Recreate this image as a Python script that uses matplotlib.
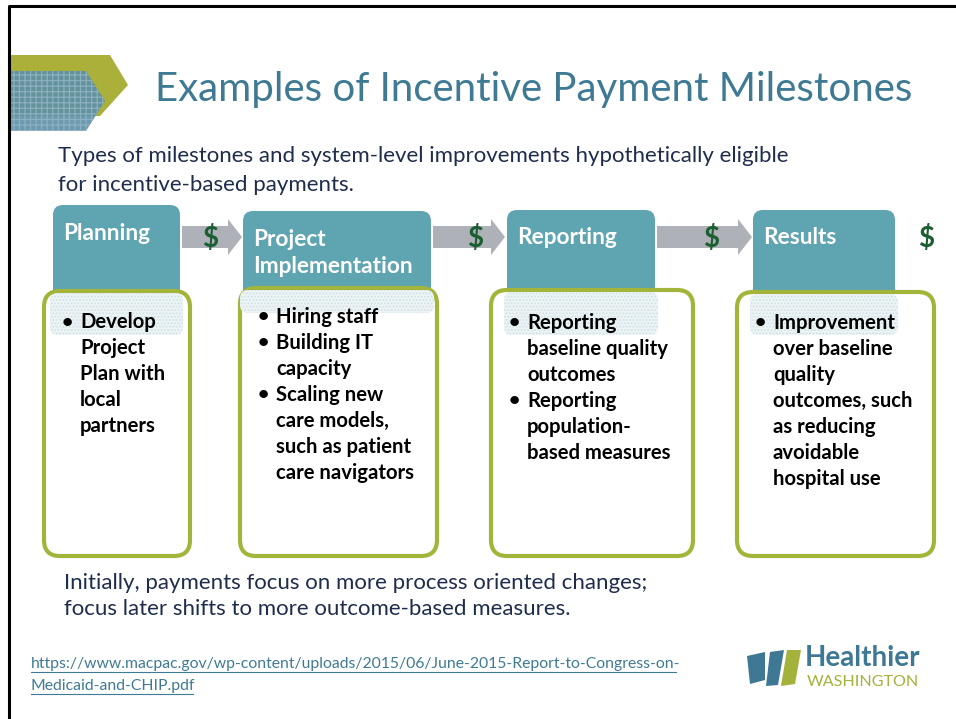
import matplotlib.pyplot as plt
from matplotlib.patches import FancyBboxPatch, Polygon

plt.rcParams['font.family'] = ['Lato', 'DejaVu Sans']
plt.rcParams['hatch.linewidth'] = 0.9

# slide texts
title = 'Examples of Incentive Payment Milestones'
subtitle = ['Types of milestones and system-level improvements hypothetically eligible',
            'for incentive-based payments.']
stages = ['Planning', 'Project\nImplementation', 'Reporting', 'Results']
bullets = [
    [['Develop', 'Project', 'Plan with', 'local', 'partners']],
    [['Hiring staff'], ['Building IT', 'capacity'],
     ['Scaling new', 'care models,', 'such as patient', 'care navigators']],
    [['Reporting', 'baseline quality', 'outcomes'],
     ['Reporting', 'population-', 'based measures']],
    [['Improvement', 'over baseline', 'quality', 'outcomes, such',
      'as reducing', 'avoidable', 'hospital use']],
]
footer = ['Initially, payments focus on more process oriented changes;',
          'focus later shifts to more outcome-based measures.']
link = ['https://www.macpac.gov/wp-content/uploads/2015/06/June-2015-Report-to-Congress-on-',
        'Medicaid-and-CHIP.pdf']

# layout (pixels)
head_x = [(53, 180), (243, 431), (507, 655), (753, 895)]
head_top = [205, 211, 210, 210]
head_ty = [234, 253, 238, 238]
body_x = [(44, 190), (240, 437), (491, 693), (737, 934)]
body_top = [291, 288, 290, 292]
glow_bot = [335, 313, 335, 335]
first_line = [322, 317, 323, 323]
arrows = [(182, 242), (433, 505), (657, 752)]
dollar_x = [210, 475, 711, 926]

TEAL = '#5fa4b1'
OLIVE = '#a3b43a'
NAVY = '#1f2d4d'
BLUE = '#3e7a94'

fig = plt.figure(figsize=(9.56, 7.19), dpi=100)
ax = fig.add_axes([0, 0, 1, 1])
ax.set_xlim(0, 956)
ax.set_ylim(719, 0)
ax.axis('off')

# slide frame
ax.plot([9, 9, 956], [719, 6, 6], color='black', lw=2.2, solid_capstyle='butt')

# top-left decoration
ax.add_patch(Polygon([(10, 55), (110, 55), (128, 85), (100, 116), (10, 116)],
                     closed=True, facecolor='#aab03a', edgecolor='none'))
ax.add_patch(Polygon([(10, 71), (86, 71), (105, 101), (86, 131), (10, 131)],
                     closed=True, facecolor='#5d8fa6', edgecolor='#8fb3c4',
                     hatch='+++', lw=0, alpha=0.9))

ax.text(155, 90, title, fontsize=29, color=BLUE, va='center', ha='left')
for i, s in enumerate(subtitle):
    ax.text(58, 156 + i * 29, s, fontsize=16, color=NAVY, va='center', ha='left')

# arrows between stages
for (x0, x1) in arrows:
    ax.add_patch(Polygon([(x0, 226), (x1 - 14, 226), (x1 - 14, 219), (x1, 237),
                          (x1 - 14, 255), (x1 - 14, 248), (x0, 248)],
                         closed=True, facecolor='#aeb1b7', edgecolor='none'))
for dx in dollar_x:
    ax.text(dx, 238, '$', fontsize=20, fontweight='bold', color='#1b5e31',
            va='center', ha='center')

for k in range(4):
    hx0, hx1 = head_x[k]
    ax.add_patch(FancyBboxPatch((hx0, head_top[k]), hx1 - hx0, 330 - head_top[k],
                                boxstyle='round,pad=0,rounding_size=10',
                                facecolor=TEAL, edgecolor='none'))
    ax.text(hx0 + 10, head_ty[k], stages[k], fontsize=16.3, fontweight='bold',
            color='white', va='center', ha='left', linespacing=1.3)

    bx0, bx1 = body_x[k]
    ax.add_patch(FancyBboxPatch((bx0, body_top[k]), bx1 - bx0, 556 - body_top[k],
                                boxstyle='round,pad=0,rounding_size=16',
                                facecolor='white', edgecolor=OLIVE, lw=3, zorder=3))
    ax.add_patch(FancyBboxPatch((hx0 - 3, body_top[k] + 2), hx1 - hx0 + 6,
                                glow_bot[k] - body_top[k] - 2,
                                boxstyle='round,pad=0,rounding_size=8',
                                facecolor='#edf4f5', edgecolor='#cfe1e5',
                                hatch='.....', lw=0, zorder=3.5))

    y = first_line[k]
    for item in bullets[k]:
        for j, line in enumerate(item):
            if j == 0:
                ax.text(bx0 + 18, y, '\u2022', fontsize=14, fontweight='bold',
                        color='black', va='center', ha='left', zorder=5)
            ax.text(bx0 + 36, y, line, fontsize=14.6, fontweight='bold',
                    color='black', va='center', ha='left', zorder=5)
            y += 26

for i, s in enumerate(footer):
    ax.text(64, 583 + i * 26, s, fontsize=16, color=NAVY, va='center', ha='left')

for i, s in enumerate(link):
    ax.text(31, 664 + i * 22, s, fontsize=11.3, color=BLUE, va='center', ha='left')
ax.plot([31, 676], [672, 672], color=BLUE, lw=0.8)
ax.plot([31, 193], [694, 694], color=BLUE, lw=0.8)

# logo
ax.add_patch(Polygon([(747, 656), (765, 652), (765, 680), (750, 684)],
                     closed=True, facecolor='#3f7895', edgecolor='none'))
ax.add_patch(Polygon([(770, 652), (784, 650), (778, 685), (766, 686)],
                     closed=True, facecolor='#3f7895', edgecolor='none'))
ax.add_patch(Polygon([(787, 650), (801, 650), (795, 684), (781, 686)],
                     closed=True, facecolor='#a4b23b', edgecolor='none'))
ax.text(805, 658, 'Healthier', fontsize=20, fontweight='bold', color='#3f7895',
        va='center', ha='left')
ax.text(807, 682, 'WASHINGTON', fontsize=11.6, color='#a4b23b',
        va='center', ha='left')

fig.savefig('out.png', dpi=100)
